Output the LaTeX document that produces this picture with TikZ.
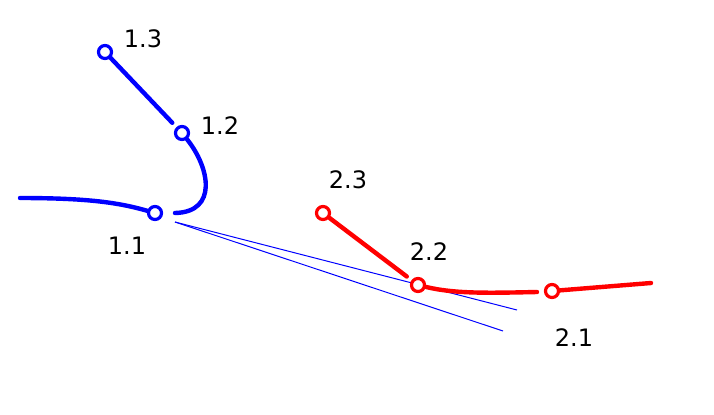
\documentclass[tikz,border=0pt]{standalone}
\usepackage{fontspec}
\setmainfont{DejaVu Sans}
\usetikzlibrary{positioning}
\usetikzlibrary{calc}

\begin{document}
\begin{tikzpicture}[x=0.5pt,y=-0.5pt]
			\tikzset{vertex/.style = {shape=circle, draw, fill=white, line width=1.6pt, minimum size=6.5pt, inner sep=0pt},
				seg/.style = {line width=2.2pt, line cap=round},
				lbl/.style = {font=\fontsize{12}{14}\selectfont, inner sep=0pt},
				tang/.style = {blue, line width=0.5pt}}
			\useasboundingbox (0,0) rectangle (714,414);
			
			\coordinate (T1) at (20,198);
			\coordinate (E11) at (175,213);
			\coordinate (TAN) at (175,222);
			\coordinate (TANA) at (517,310);
			\coordinate (TANB) at (503,331);
			\coordinate (E21) at (537,292);
			\coordinate (T2) at (651,283);
			
			\draw[tang] (TAN) -- (TANA);
			\draw[tang] (TAN) -- (TANB);
			
			\node[vertex, draw=blue] (P11) at (155,213) {};
			\node[vertex, draw=blue] (P12) at (182,133) {};
			\node[vertex, draw=blue] (P13) at (105,52) {};
			\node[vertex, draw=red] (P21) at (552,291) {};
			\node[vertex, draw=red] (P22) at (418,285) {};
			\node[vertex, draw=red] (P23) at (323,213) {};
			
			\draw[seg, blue] (T1) .. controls (90,198) and (120,203) .. (P11);
			\draw[seg, blue] (P12) .. controls (210,168) and (218,212) .. (E11);
			\draw[seg, blue, shorten >=3pt] (P13) -- (P12);
			
			\draw[seg, red, shorten >=3pt] (P23) -- (P22);
			\draw[seg, red] (P22) .. controls (455,294) and (490,293) .. (E21);
			\draw[seg, red] (P21) -- (T2);
			
			\node[lbl] (L11) at (127,246) {1.1};
			\node[lbl] (L12) at (220,126) {1.2};
			\node[lbl] (L13) at (143,39) {1.3};
			\node[lbl] (L21) at (574,338) {2.1};
			\node[lbl] (L22) at (429,252) {2.2};
			\node[lbl] (L23) at (348,180) {2.3};
			
\end{tikzpicture}
\end{document}
